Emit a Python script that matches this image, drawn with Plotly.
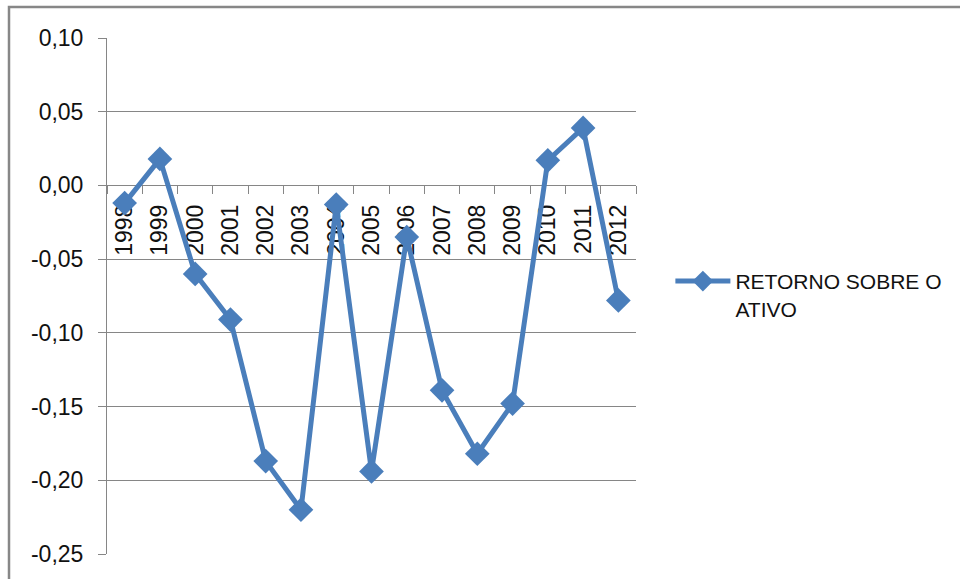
import plotly.graph_objects as go

# Return on assets by year
anos = ["1998", "1999", "2000", "2001", "2002", "2003", "2004", "2005",
        "2006", "2007", "2008", "2009", "2010", "2011", "2012"]
retorno = [-0.012, 0.018, -0.060, -0.091, -0.187, -0.220, -0.013, -0.194,
           -0.035, -0.139, -0.182, -0.148, 0.017, 0.039, -0.078]

y_ticks = [0.10, 0.05, 0.00, -0.05, -0.10, -0.15, -0.20, -0.25]
y_tick_text = ["0,10", "0,05", "0,00", "-0,05", "-0,10", "-0,15", "-0,20", "-0,25"]

azul = "#4A7EBB"
cinza = "#868686"
fonte = "Liberation Sans"
texto = "#111111"

y_min, y_max = -0.25, 0.10

fig = go.Figure()
fig.add_trace(go.Scatter(
    x=anos, y=retorno,
    mode="lines+markers",
    name="RETORNO SOBRE O<br>ATIVO",
    line=dict(color=azul, width=5),
    marker=dict(symbol="diamond", size=19, color=azul),
))

fig.update_layout(
    width=960, height=579,
    margin=dict(l=107, r=324, t=38, b=25),
    paper_bgcolor="white",
    plot_bgcolor="white",
    font=dict(family=fonte, size=23, color=texto),
    showlegend=True,
    legend=dict(
        x=1.065, y=0.568, xanchor="left", yanchor="top",
        valign="top",
        font=dict(family=fonte, size=21, color=texto),
        itemwidth=55,
        bgcolor="rgba(0,0,0,0)",
    ),
    xaxis=dict(
        type="category",
        range=[-0.5, len(anos) - 0.5],
        anchor="free",
        position=(0 - y_min) / (y_max - y_min),
        showline=True, linecolor=cinza, linewidth=1,
        showgrid=False, zeroline=False,
        ticks="outside", ticklen=8, tickcolor=cinza, tickwidth=1,
        tickson="boundaries",
        tickangle=-90,
        ticklabelstandoff=9,
        tickfont=dict(family=fonte, size=23, color=texto),
        layer="below traces",
    ),
    yaxis=dict(
        range=[y_min, y_max],
        tickvals=y_ticks, ticktext=y_tick_text,
        showline=True, linecolor=cinza, linewidth=1,
        showgrid=True, gridcolor=cinza, gridwidth=1,
        zeroline=False,
        ticks="outside", ticklen=8, tickcolor=cinza, tickwidth=1,
        ticklabelstandoff=10,
        tickfont=dict(family=fonte, size=23, color=texto),
        layer="below traces",
    ),
)

# Chart frame
fig.add_shape(
    type="rect", xref="paper", yref="paper",
    x0=(9 - 107) / 529, x1=(975 - 107) / 529,
    y0=(554 - 600) / 516, y1=(554 - 7) / 516,
    line=dict(color="#878787", width=2.5),
    fillcolor="rgba(0,0,0,0)",
    layer="below",
)

fig.write_html("out.html")
